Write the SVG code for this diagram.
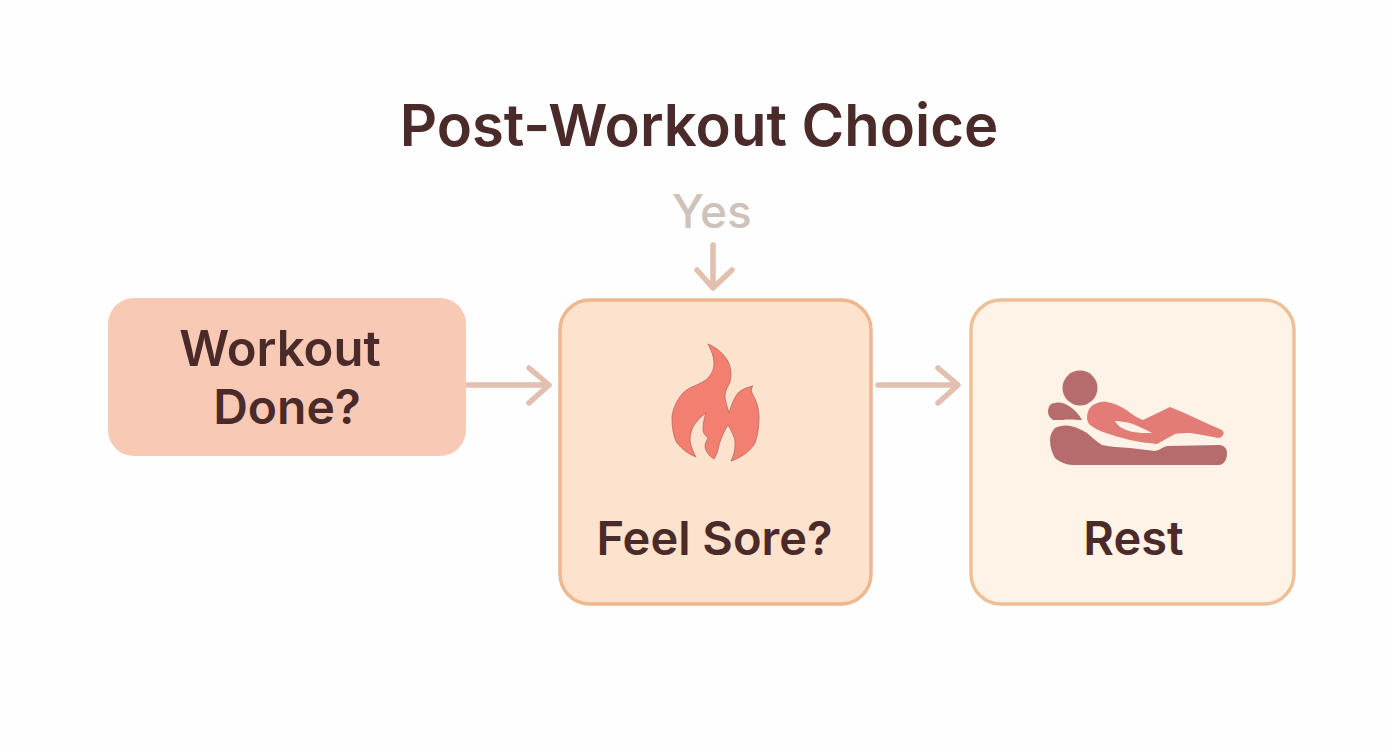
<svg xmlns="http://www.w3.org/2000/svg" width="1392" height="752" viewBox="0 0 1392 752">
<style>
text{font-family:"Inter","Liberation Sans",sans-serif;font-weight:600;fill:#4b2b29;text-anchor:middle}
.lbl{font-size:47px}
.conn{fill:none;stroke:#e3bfb0;stroke-width:5.5;stroke-linecap:round;stroke-linejoin:round}
</style>
<rect width="1392" height="752" fill="#fefefe"/>
<text id="title" x="699" y="146" font-size="58">Post-Workout Choice</text>
<g id="connectors">
<path class="conn" d="M467 385H548M529 368L549 385L529 403"/>
<path class="conn" d="M878 385H957M938 368L958 385L938 403"/>
<path class="conn" d="M713 245V288M697 270L713 288L732 270"/>
</g>
<g id="yes"><text x="712" y="228" font-size="46" style="fill:#cfc2bb;font-weight:500">Yes</text></g>
<g id="workout-done">
<rect x="108" y="298" width="358" height="158" rx="26" fill="#f8cab5"/>
<text x="280" y="366" font-size="49">Workout</text>
<text x="287" y="424" font-size="48">Done?</text>
</g>
<g id="feel-sore">
<rect x="560" y="300" width="311" height="304" rx="30" fill="#fde3cd" stroke="#efb78e" stroke-width="3.5"/>
<path d="M708 344C720 349 731 360 731 373C731 381 729 385 727 388C725 392 725 395 725 398C726 404 728 409 729 413C731 406 734 398 738 393C742 389 748 387 753 386C751 388 751 391 752 393C756 400 759 408 759 417C759 429 757 437 755 443C750 452 740 458 731 461C734 455 735 450 735 445C735 441 735 439 734 437C732 432 730 428 728 425C724 431 721 438 719 445C718 451 716 456 714 459C709 456 706 452 705 447C705 443 707 440 708 438C705 435 703 433 703 430C703 424 704 418 706 413C700 417 696 422 693 427C691 431 690 436 690 440C691 447 693 452 696 457C688 454 682 449 677 443C673 436 672 426 672 417C673 408 677 400 683 393C690 386 700 385 707 379C712 374 714 369 714 363C714 356 711 350 708 344Z" fill="#f37f70" stroke="#b8675f" stroke-width="0.8"/>
<text class="lbl" x="714.500" y="555">Feel Sore?</text>
</g>
<g id="rest">
<rect x="971" y="300" width="323" height="304" rx="30" fill="#fef3e6" stroke="#efc095" stroke-width="3.5"/>
<circle cx="1080" cy="388" r="17.500" fill="#b66c6c"/>
<path d="M1048 412C1048 406 1051 403 1055 403C1060 402 1064 403 1067 405C1073 408 1079 414 1082 420C1076 420 1069 419 1063 420C1059 420 1056 420 1053 420C1050 418 1048 415 1048 412Z" fill="#b66c6c"/>
<path d="M1087 418C1087 412 1089 408 1093 405C1098 402 1103 401 1107 402C1113 403 1118 405 1123 408C1130 412 1136 418 1143 420C1152 416 1161 411 1170 407C1188 414 1205 423 1222 430C1224 432 1224 434 1223 435C1222 437 1220 438 1218 438C1208 436 1199 434 1190 433C1185 433 1180 433 1175 434C1169 437 1163 441 1157 444C1148 443 1139 442 1130 440C1121 438 1112 435 1103 432C1098 430 1094 428 1090 425C1088 423 1087 420 1087 418Z" fill="#e37c76"/>
<path d="M1115 421C1120 421 1125 422 1130 423C1138 426 1145 429 1152 433C1145 433 1139 433 1133 432C1128 431 1124 429 1120 427C1118 425 1116 423 1115 421Z" fill="#fef3e6"/>
<path d="M1050 440C1050 435 1052 431 1055 428C1059 426 1065 425 1070 426C1076 427 1082 430 1087 433C1092 437 1097 442 1102 445C1111 447 1121 447 1130 448C1138 449 1147 450 1155 451C1160 450 1163 447 1167 446C1185 446 1203 445 1220 445C1225 446 1227 449 1227 453C1227 459 1225 463 1220 465H1073C1066 465 1060 462 1055 458C1052 453 1050 447 1050 440Z" fill="#b66c6c"/>
<text class="lbl" x="1133.500" y="555">Rest</text>
</g>
</svg>
